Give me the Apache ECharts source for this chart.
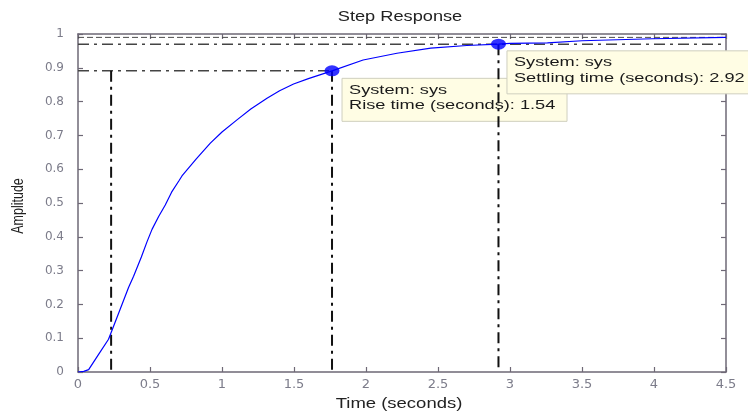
<!DOCTYPE html>
<html><head><meta charset="utf-8">
<script src="https://cdn.jsdelivr.net/npm/echarts@6/dist/echarts.min.js"></script>
<style>html,body{margin:0;padding:0;background:#fff}#c{width:748px;height:414px}</style>
</head><body><div id="c"></div>
<script>
const chartTitle = 'Step Response';
const xAxisName = 'Time (seconds)';
const yAxisName = 'Amplitude';
const timeValues = [0, 0.04, 0.074, 0.143, 0.212, 0.282, 0.351, 0.386, 0.44, 0.479, 0.514, 0.56, 0.606, 0.65, 0.70, 0.722, 0.82, 0.919, 1.0, 1.104, 1.2, 1.3125, 1.4, 1.497, 1.6, 1.764, 1.98, 2.215, 2.45, 2.7, 2.92, 3.0, 3.26, 3.27, 3.5, 3.51, 3.99, 4.0, 4.5];
const amplitudeValues = [0, 0.002, 0.007, 0.052, 0.097, 0.174, 0.250, 0.283, 0.34, 0.385, 0.422, 0.460, 0.494, 0.532, 0.565, 0.580, 0.630, 0.677, 0.71, 0.746, 0.778, 0.81, 0.832, 0.852, 0.868, 0.891, 0.923, 0.943, 0.958, 0.966, 0.970, 0.972, 0.974, 0.978, 0.980, 0.984, 0.986, 0.989, 0.990];
const xTickLabels = ['0','0.5','1','1.5','2','2.5','3','3.5','4','4.5'];
const yTickLabels = ['0','0.1','0.2','0.3','0.4','0.5','0.6','0.7','0.8','0.9','1'];
const finalValue = 0.99;
const riseTimes = [0.23, 1.764];
const riseLevels = [0.099, 0.891];
const settleTime = 2.92;
const settleLevel = 0.970;
const riseTimeText = ['System: sys', 'Rise time (seconds): 1.54'];
const settleTimeText = ['System: sys', 'Settling time (seconds): 2.92'];

const chart = echarts.init(document.getElementById('c'), null, {renderer: 'canvas'});
const axisColor = '#6e6876';
const labelColor = '#7c7c8a';

function refLine(points, dash, color, width, z) {
  return {type: 'line', data: points, symbol: 'none', silent: true, animation: false, z: z,
    lineStyle: {type: dash, color: color, width: width, cap: 'butt'}};
}
const dashDot = [11, 5, 3, 5];

const curve = timeValues.map((t, i) => [t, amplitudeValues[i]]);

chart.setOption({
  animation: false,
  grid: {left: 78, right: 22, top: 34, bottom: 42, containLabel: false, outerBoundsMode: 'none'},
  xAxis: [
    {type: 'value', min: 0, max: 4.5, interval: 0.5, position: 'bottom',
      axisLine: {show: true, onZero: false, lineStyle: {color: axisColor, width: 1.5}},
      axisTick: {show: true, inside: true, length: 5, lineStyle: {color: axisColor, width: 1.2}},
      axisLabel: {margin: 6, color: labelColor, fontFamily: 'DejaVu Sans', fontSize: 13,
        formatter: (v, i) => xTickLabels[i]},
      splitLine: {show: false}},
    {type: 'value', min: 0, max: 4.5, interval: 0.5, position: 'top',
      axisLine: {show: true, onZero: false, lineStyle: {color: axisColor, width: 1.5}},
      axisTick: {show: true, inside: true, length: 5, lineStyle: {color: axisColor, width: 1.2}},
      axisLabel: {show: false}, splitLine: {show: false}}
  ],
  yAxis: [
    {type: 'value', min: 0, max: 1, interval: 0.1, position: 'left',
      axisLine: {show: true, onZero: false, lineStyle: {color: axisColor, width: 1.5}},
      axisTick: {show: true, inside: true, length: 5, lineStyle: {color: axisColor, width: 1.2}},
      axisLabel: {margin: 14, color: labelColor, fontFamily: 'DejaVu Sans', fontSize: 12,
        formatter: (v, i) => yTickLabels[i]},
      splitLine: {show: false}},
    {type: 'value', min: 0, max: 1, interval: 0.1, position: 'right',
      axisLine: {show: true, onZero: false, lineStyle: {color: axisColor, width: 1.5}},
      axisTick: {show: true, inside: true, length: 5, lineStyle: {color: axisColor, width: 1.2}},
      axisLabel: {show: false}, splitLine: {show: false}}
  ],
  series: [
    refLine([[0, finalValue], [4.5, finalValue]], [6, 3], '#4a4a4a', 1, 2),
    refLine([[0, settleLevel], [4.5, settleLevel]], dashDot, '#444', 1.5, 2),
    refLine([[0, riseLevels[1]], [riseTimes[1], riseLevels[1]]], dashDot, '#444', 1.5, 2),
    refLine([[riseTimes[0], riseLevels[1]], [riseTimes[0], 0]], dashDot, '#111', 2, 2),
    refLine([[riseTimes[1], riseLevels[1]], [riseTimes[1], 0]], dashDot, '#111', 2, 2),
    refLine([[settleTime, settleLevel], [settleTime, 0]], dashDot, '#111', 2, 3),
    {type: 'line', data: curve, symbol: 'none', smooth: false, z: 4, silent: true,
      lineStyle: {color: '#0000ff', width: 1.2}},
    {type: 'scatter', data: [[riseTimes[1], riseLevels[1]], [settleTime, settleLevel]],
      symbol: 'circle', symbolSize: [15, 11], z: 5, silent: true,
      itemStyle: {color: '#0000ff'}}
  ]
});

function box(pt, dx, dy, w, h, lines, z) {
  const left = pt[0] + dx, top = pt[1] + dy;
  const els = [{type: 'rect', z: z, silent: true,
    shape: {x: left, y: top, width: w, height: h},
    style: {fill: '#fffde4', stroke: '#cfcfbf', lineWidth: 1}}];
  lines.forEach((s, i) => {
    els.push({type: 'text', z: z, silent: true, x: left + 7, y: top + 12 + i * 15.5, scaleX: 1.4,
      style: {text: s, fontFamily: 'Liberation Sans', fontSize: 13, fill: '#1a1a1a',
        align: 'left', verticalAlign: 'middle'}});
  });
  return els;
}

const p1 = chart.convertToPixel({xAxisIndex: 0, yAxisIndex: 0}, [riseTimes[1], riseLevels[1]]);
const p2 = chart.convertToPixel({xAxisIndex: 0, yAxisIndex: 0}, [settleTime, settleLevel]);
const pc = chart.convertToPixel({xAxisIndex: 0, yAxisIndex: 0}, [2.25, 0]);

const g = [].concat(
  box(p1, 10, 7.5, 225, 43, riseTimeText, 1),
  box(p2, 8.5, 6.7, 260, 43, settleTimeText, 10),
  [
    {type: 'text', silent: true, x: pc[0] - 2, y: 17, scaleX: 1.3,
      style: {text: chartTitle, fontFamily: 'Liberation Sans', fontSize: 14, fill: '#222', align: 'center', verticalAlign: 'middle'}},
    {type: 'text', silent: true, x: pc[0] - 3, y: 404, scaleX: 1.32,
      style: {text: xAxisName, fontFamily: 'Liberation Sans', fontSize: 14, fill: '#222', align: 'center', verticalAlign: 'middle'}},
    {type: 'text', silent: true, x: 19, y: 206, rotation: Math.PI / 2, scaleY: 1.3,
      style: {text: yAxisName, fontFamily: 'Liberation Sans', fontSize: 12.5, fill: '#222', align: 'center', verticalAlign: 'middle'}}
  ]
);
chart.setOption({graphic: g});
</script></body></html>
